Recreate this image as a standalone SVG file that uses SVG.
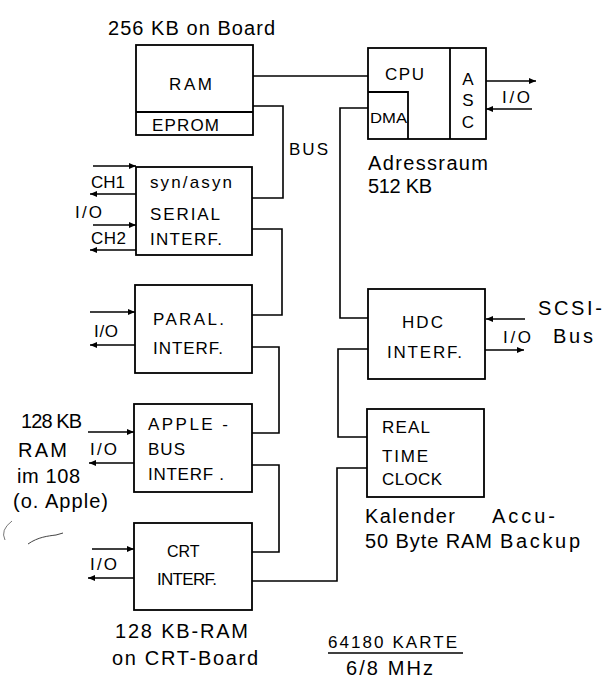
<svg xmlns="http://www.w3.org/2000/svg" width="616" height="681" viewBox="0 0 616 681">
<defs>
<marker id="ah" markerUnits="userSpaceOnUse" markerWidth="8" markerHeight="8" refX="7" refY="4" orient="auto"><path d="M0,1 L7,4 L0,7 Z" fill="#000"/></marker>
<style>
.b{fill:none;stroke:#000;stroke-width:1.8}
.c{fill:none;stroke:#000;stroke-width:1.6}
.a{fill:none;stroke:#000;stroke-width:1.4;marker-end:url(#ah)}
text{font-family:"Liberation Sans",Arial,sans-serif;fill:#000}
.t{font-size:17px}
.l{font-size:20px}
</style>
</defs>
<rect width="616" height="681" fill="#fff"/>
<g id="ram">
<rect class="b" x="136" y="45" width="117" height="90"/>
<line class="b" x1="136" y1="112" x2="253" y2="112"/>
<text class="t" x="169" y="90" textLength="43" font-size="19">RAM</text>
<text class="t" x="152" y="131" textLength="67">EPROM</text>
<text class="l" x="108" y="35" textLength="167" font-size="22">256 KB on Board</text>
</g>
<g id="cpu">
<rect class="b" x="368" y="48" width="118" height="91"/>
<line class="b" x1="450" y1="48" x2="450" y2="139"/>
<path class="b" d="M368 92 H408 V139"/>
<text class="t" x="385" y="80" textLength="39">CPU</text>
<text class="t" x="468" y="85" text-anchor="middle">A</text>
<text class="t" x="468" y="106" text-anchor="middle">S</text>
<text class="t" x="468" y="128" text-anchor="middle">C</text>
<text x="370" y="123" font-size="15" textLength="37" lengthAdjust="spacingAndGlyphs">DMA</text>
<text class="t" x="502" y="103" textLength="28">I/O</text>
<text class="l" x="368" y="170" textLength="120">Adressraum</text>
<text class="l" x="368" y="193" textLength="64">512 KB</text>
</g>
<g id="serial">
<rect class="b" x="136" y="167" width="116" height="88"/>
<text class="t" x="150" y="188" textLength="82">syn/asyn</text>
<text class="t" x="150" y="220" textLength="70">SERIAL</text>
<text class="t" x="150" y="245" textLength="72">INTERF.</text>
<text class="t" x="91" y="188" textLength="34">CH1</text>
<text class="t" x="75" y="218" textLength="27">I/O</text>
<text class="t" x="91" y="244" textLength="35">CH2</text>
</g>
<g id="paral">
<rect class="b" x="135" y="285" width="117" height="88"/>
<text class="t" x="153" y="325" textLength="71">PARAL.</text>
<text class="t" x="153" y="354" textLength="70">INTERF.</text>
<text class="t" x="94" y="337" textLength="24">I/O</text>
</g>
<g id="apple">
<rect class="b" x="134" y="404" width="118" height="88"/>
<text class="t" x="148" y="430" textLength="80">APPLE -</text>
<text class="t" x="148" y="455" textLength="37">BUS</text>
<text class="t" x="148" y="480" textLength="76">INTERF .</text>
<text class="t" x="90" y="455" textLength="27">I/O</text>
<text class="l" x="21" y="428" textLength="61">128 KB</text>
<text class="l" x="18" y="457" textLength="49">RAM</text>
<text class="l" x="17" y="483" textLength="63">im 108</text>
<text class="l" x="13" y="508" textLength="95">(o. Apple)</text>
</g>
<g id="crt">
<rect class="b" x="134" y="523" width="118" height="87"/>
<text x="167" y="557" font-size="16">CRT</text>
<text class="t" x="157" y="585" textLength="60">INTERF.</text>
<text class="t" x="90" y="570" textLength="27">I/O</text>
<text class="l" x="115" y="638" textLength="133">128 KB-RAM</text>
<text class="l" x="112" y="665" textLength="146">on CRT-Board</text>
</g>
<g id="hdc">
<rect class="b" x="368" y="289" width="117" height="90"/>
<text class="t" x="402" y="328" textLength="41">HDC</text>
<text class="t" x="387" y="358" textLength="75">INTERF.</text>
<text class="t" x="503" y="343" textLength="28">I/O</text>
<text class="l" x="538" y="315" textLength="64">SCSI-</text>
<text class="l" x="553" y="343" textLength="40">Bus</text>
</g>
<g id="rtc">
<rect class="b" x="367" y="409" width="117" height="88"/>
<text class="t" x="382" y="433" textLength="48">REAL</text>
<text class="t" x="382" y="462" textLength="46">TIME</text>
<text class="t" x="382" y="485" textLength="60">CLOCK</text>
<text class="l" x="365" y="523" textLength="90">Kalender</text>
<text class="l" x="492" y="523" textLength="63">Accu-</text>
<text class="l" x="365" y="548" textLength="127">50 Byte RAM</text>
<text class="l" x="500" y="548" textLength="80">Backup</text>
</g>
<g id="bus-label">
<text class="t" x="289" y="155" textLength="39">BUS</text>
</g>
<g id="title">
<text class="t" x="328" y="648" textLength="129">64180 KARTE</text>
<line x1="328" y1="653" x2="463" y2="653" stroke="#000" stroke-width="1.3"/>
<text class="l" x="346" y="675" textLength="87">6/8 MHz</text>
</g>
<g id="connectors">
<path class="c" d="M253 76 H368"/>
<path class="c" d="M253 106 H283 V198 H252"/>
<path class="c" d="M252 229 H282 V315 H252"/>
<path class="c" d="M252 347 H279 V433 H252"/>
<path class="c" d="M252 465 H279 V552 H252"/>
<path class="c" d="M252 581 H337 V468 H367"/>
<path class="c" d="M368 108 H340 V318 H368"/>
<path class="c" d="M368 349 H338 V437 H367"/>
<path class="a" d="M93 166 H136"/>
<path class="a" d="M136 194 H90"/>
<path class="a" d="M93 225 H136"/>
<path class="a" d="M136 250 H90"/>
<path class="a" d="M90 312 H135"/>
<path class="a" d="M135 345 H90"/>
<path class="a" d="M88 432 H134"/>
<path class="a" d="M134 463 H89"/>
<path class="a" d="M92 549 H134"/>
<path class="a" d="M134 578 H88"/>
<path class="a" d="M486 81 H536"/>
<path class="a" d="M532 109 H486"/>
<path class="a" d="M525 319 H486"/>
<path class="a" d="M485 350 H524"/>
</g>
<g id="marks">
<path d="M12 521 Q0 530 5 540" fill="none" stroke="#555" stroke-width="0.8"/>
<path d="M28 544 C38 537 48 536 56 535 L63 533" fill="none" stroke="#444" stroke-width="1"/>
</g>
</svg>
